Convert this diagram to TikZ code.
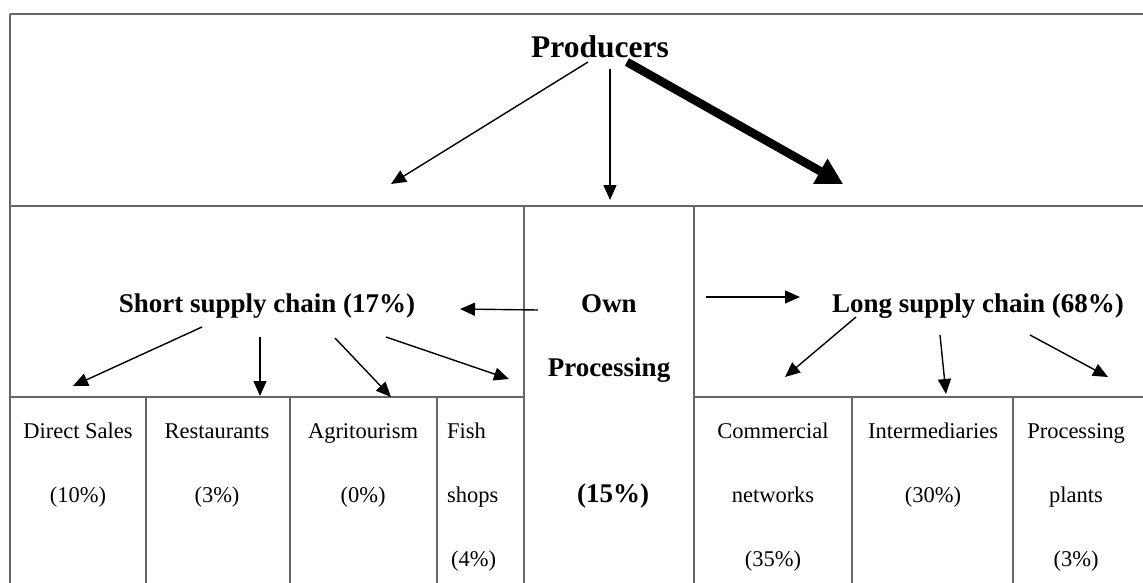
\documentclass[tikz,border=0pt]{standalone}
\usepackage{fontspec}
\setmainfont{Liberation Serif}
\usetikzlibrary{arrows.meta}
\begin{document}
\begin{tikzpicture}[x=1pt,y=-1pt,
  frame/.style={draw=black!60, line width=1.3pt},
  arr/.style={line width=1.4pt, -{Triangle[length=15pt,width=13pt]}},
  bigarr/.style={line width=8.5pt, -{Triangle[length=26pt,width=27pt]}},
  bt/.style={font=\fontsize{27}{31}\selectfont\bfseries, anchor=base, inner sep=0pt},
  rt/.style={font=\fontsize{22.5}{26}\selectfont, anchor=base, inner sep=0pt},
  rtl/.style={rt, anchor=base west},
]
\useasboundingbox (0,0) rectangle (1143,583);
\fill[white] (0,0) rectangle (1143,583);
\begin{scope}
\clip (0,0) rectangle (1143,583);
\draw[frame] (10,14) -- (1150,14);
\draw[frame] (10,14) -- (10,590);
\draw[frame] (10,206) -- (1150,206);
\draw[frame] (524,206) -- (524,590);
\draw[frame] (694,206) -- (694,590);
\draw[frame] (10,397) -- (524,397);
\draw[frame] (694,397) -- (1150,397);
\foreach \xx in {146,290,437,852,1013} \draw[frame] (\xx,397) -- (\xx,590);
\end{scope}

% texts
\node[font=\fontsize{31.5}{36}\selectfont\bfseries, anchor=base, inner sep=0pt] (prod) at (600,58) {Producers};
\node[bt] (short) at (267,312) {Short supply chain (17\%)};
\node[bt] (long) at (978,312) {Long supply chain (68\%)};
\node[bt] (own1) at (609,312) {Own};
\node[bt] (own2) at (609,376) {Processing};
\node[bt] (own3) at (613,502) {(15\%)};

\node[rt] (ds1) at (78,438) {Direct Sales};
\node[rt] (ds2) at (78,502) {(10\%)};
\node[rt] (re1) at (217,438) {Restaurants};
\node[rt] (re2) at (217,502) {(3\%)};
\node[rt] (ag1) at (363,438) {Agritourism};
\node[rt] (ag2) at (363,502) {(0\%)};
\node[rtl] (fi1) at (447,438) {Fish};
\node[rtl] (fi2) at (447,502) {shops};
\node[rtl] (fi3) at (451,566) {(4\%)};
\node[rt] (cn1) at (773,438) {Commercial};
\node[rt] (cn2) at (773,502) {networks};
\node[rt] (cn3) at (773,566) {(35\%)};
\node[rt] (in1) at (933,438) {Intermediaries};
\node[rt] (in2) at (933,502) {(30\%)};
\node[rt] (pp1) at (1076,438) {Processing};
\node[rt] (pp2) at (1076,502) {plants};
\node[rt] (pp3) at (1076,566) {(3\%)};

% connector end points
\coordinate (pl) at (588,62);   \coordinate (tl) at (391,184);
\coordinate (pm) at (610,69);   \coordinate (tm) at (610,200);
\coordinate (pr) at (627,62);   \coordinate (tr) at (843,184);
\coordinate (os) at (538,310);  \coordinate (ts) at (460,309);
\coordinate (ol) at (706,297);  \coordinate (tlg) at (800,297);
\coordinate (s1) at (202,327);  \coordinate (t1) at (73,386);
\coordinate (s2) at (260,337);  \coordinate (t2) at (260,396);
\coordinate (s3) at (335,338);  \coordinate (t3) at (391,397);
\coordinate (s4) at (386,337);  \coordinate (t4) at (509,379);
\coordinate (l1) at (856,317);  \coordinate (u1) at (785,377);
\coordinate (l2) at (940,335);  \coordinate (u2) at (946,394);
\coordinate (l3) at (1030,335); \coordinate (u3) at (1108,377);

% shadow of thick arrow
\draw[bigarr, draw=black, fill=black, opacity=0.10, shift={(5,7)}] (pr) -- (tr);
\draw[bigarr, draw=black, fill=black, opacity=0.18, shift={(2,4)}] (pr) -- (tr);
\draw[bigarr] (pr) -- (tr);

\draw[arr] (pl) -- (tl);
\draw[arr] (pm) -- (tm);
\draw[arr] (os) -- (ts);
\draw[arr] (ol) -- (tlg);
\draw[arr] (s1) -- (t1);
\draw[arr] (s2) -- (t2);
\draw[arr] (s3) -- (t3);
\draw[arr] (s4) -- (t4);
\draw[arr] (l1) -- (u1);
\draw[arr] (l2) -- (u2);
\draw[arr] (l3) -- (u3);
\end{tikzpicture}
\end{document}
